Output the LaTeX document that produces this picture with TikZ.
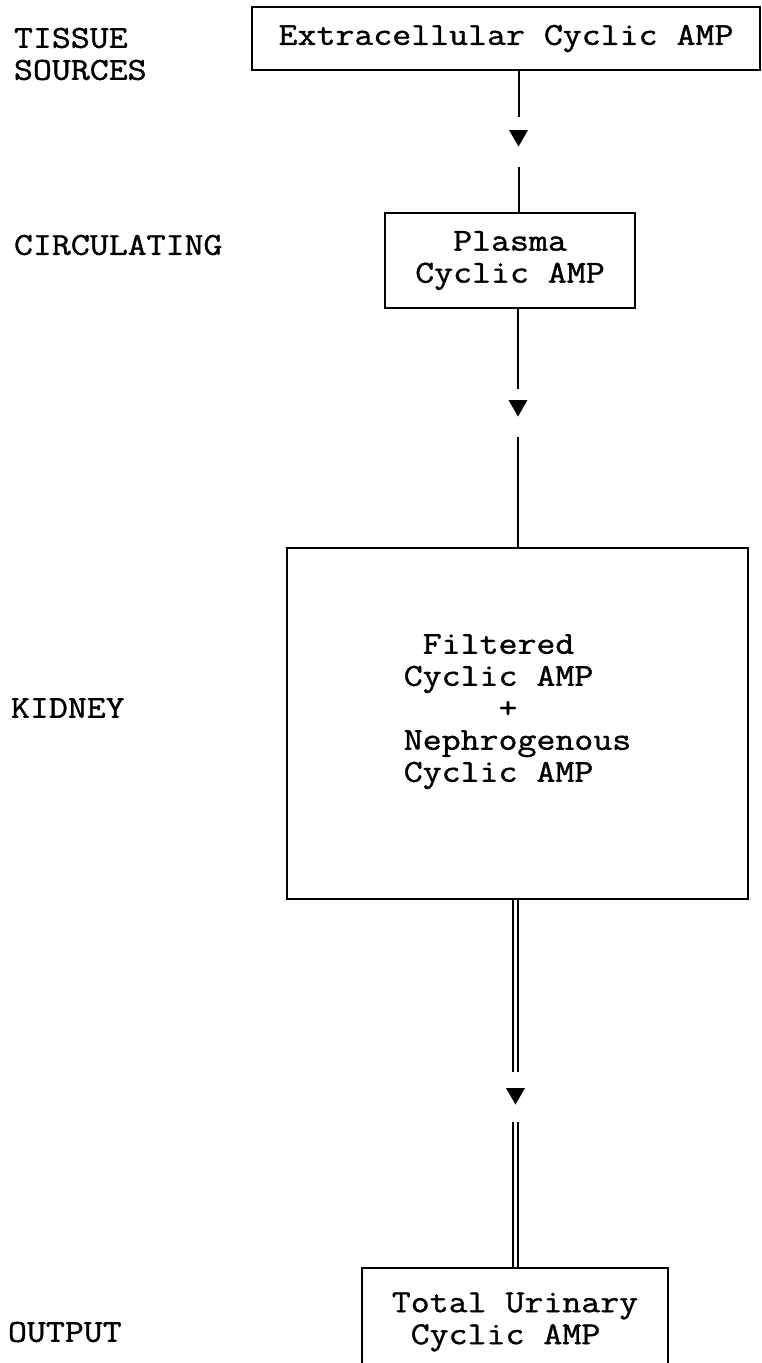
\documentclass[tikz,border=0pt]{standalone}
\usepackage{fontspec}
\setmonofont[FakeStretch=1.15,FakeBold=1.2]{Latin Modern Mono}
\usetikzlibrary{shapes.geometric}

\begin{document}
\begin{tikzpicture}[x=1pt, y=-1pt, line width=2pt,
		every node/.style={font=\ttfamily\fontsize{32pt}{32pt}\selectfont},
		box/.style={draw, rectangle, inner sep=0pt, align=center},
		stage/.style={anchor=west, inner sep=0pt, align=left},
		head/.style={regular polygon, regular polygon sides=3, shape border rotate=180,
			fill=black, inner sep=0pt, minimum size=22pt},
		twin/.style={double, double distance=3pt, line width=1.6pt}]
		\clip (0,0) rectangle (761,1363);

		% the four stages
		\node[box, minimum width=508pt, minimum height=63pt] (ecamp) at (506,38.5) {Extracellular Cyclic AMP};
		\node[box, minimum width=250pt, minimum height=95pt] (plasma) at (510,260.5) {Plasma\\Cyclic AMP};
		\node[box, minimum width=461pt, minimum height=351pt, align=left, text depth=31pt] (kidney) at (517.5,723.5)
			{\hphantom{0}Filtered\\Cyclic AMP\\\hphantom{00000}+\\Nephrogenous\\Cyclic AMP};
		\node[box, minimum width=306pt, minimum height=108pt, align=left] (urine) at (515,1322)
			{Total Urinary\\\hphantom{0}Cyclic AMP};

		% labels on the left
		\node[stage] (tissue) at (13,54) {TISSUE\\SOURCES};
		\node[stage] (circ) at (13,245) {CIRCULATING};
		\node[stage] (kid) at (10,708) {KIDNEY};
		\node[stage] (out) at (7,1332) {OUTPUT};

		% arrow heads
		\node[head] (h1) at (518.5,135.5) {};
		\node[head] (h2) at (518,405.5) {};
		\node[head] (h3) at (515.5,1093.5) {};

		\draw[shorten >=12pt] (ecamp.south -| h1) -- (h1);
		\draw[shorten <=18pt] (h1) -- (plasma.north -| h1);
		\draw[shorten >=10pt] (plasma.south -| h2) -- (h2);
		\draw[shorten <=18pt] (h2) -- (kidney.north -| h2);
		\draw[twin, shorten >=15pt] (kidney.south -| h3) -- (h3);
		\draw[twin, shorten <=15pt] (h3) -- (urine.north -| h3);
\end{tikzpicture}
\end{document}
